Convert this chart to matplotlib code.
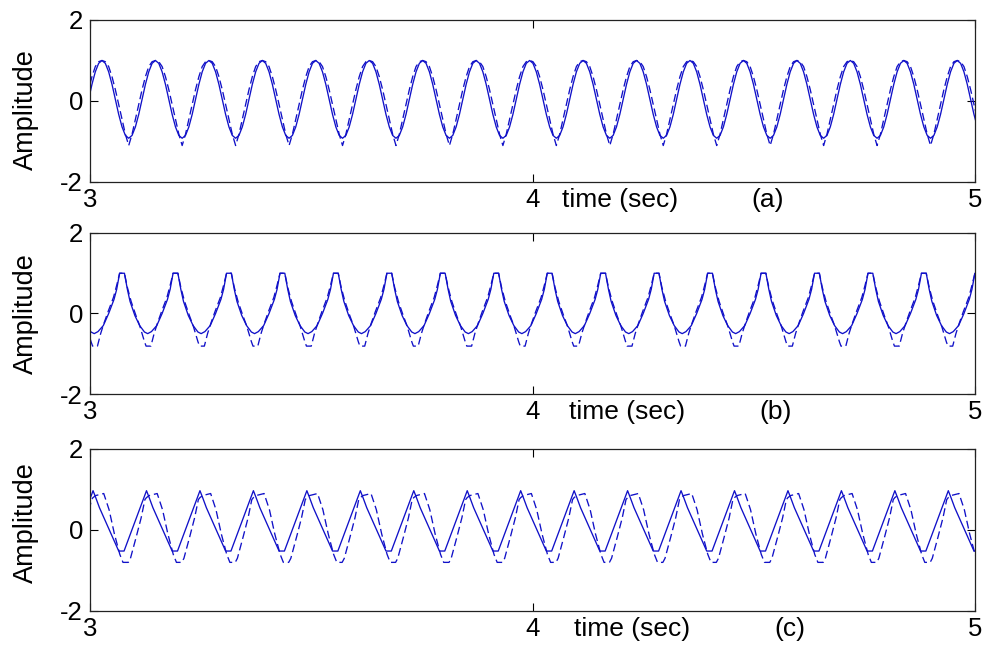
import numpy as np
import matplotlib
matplotlib.use("Agg")
from matplotlib import pyplot as plt

# one cycle of every trace.
# phase 0 = peak of the solid line, phase 1 = next peak
period = 0.1208  # sec, same for all three panels

phase_a = [0.0, 0.0625, 0.125, 0.1875, 0.25, 0.3125, 0.375, 0.4375,
           0.5, 0.5625, 0.625, 0.6875, 0.75, 0.8125, 0.875, 0.9375]
solid_a = [1.0, 0.93, 0.72, 0.41, 0.04, -0.33, -0.64, -0.85,
           -0.92, -0.85, -0.64, -0.33, 0.04, 0.41, 0.72, 0.93]
dashed_a = [1.0, 0.97, 0.85, 0.6, 0.28, -0.08, -0.45, -0.82,
            -1.1, -0.82, -0.45, -0.08, 0.28, 0.6, 0.85, 0.97]
peak_a = 3.027

phase_b = [0.0, 0.045, 0.1, 0.15, 0.24, 0.33, 0.42, 0.48, 0.55,
           0.65, 0.75, 0.85, 0.9, 0.955]
solid_b = [1.0, 1.0, 0.6, 0.3, -0.05, -0.3, -0.46, -0.5, -0.45,
           -0.3, 0.0, 0.35, 0.6, 1.0]
phase_b2 = [0.0, 0.045, 0.1, 0.17, 0.26, 0.33, 0.42, 0.45, 0.54,
            0.6, 0.66, 0.74, 0.84, 0.9, 0.955]
dashed_b = [1.0, 1.0, 0.65, 0.3, -0.05, -0.3, -0.7, -0.81, -0.81,
            -0.5, -0.25, 0.05, 0.4, 0.7, 1.0]
peak_b = 3.0723

phase_c = [0.0, 0.05, 0.12, 0.48, 0.58]
solid_c = [0.97, 0.8, 0.55, -0.52, -0.52]
phase_c2 = [0.0, 0.05, 0.2, 0.3, 0.4, 0.5, 0.56, 0.66, 0.7, 0.81, 0.9, 0.97]
dashed_c = [0.8, 0.85, 0.9, 0.5, -0.1, -0.6, -0.8, -0.8, -0.7, -0.16, 0.3, 0.75]
peak_c = 3.0068

xticks = [3, 4, 5]
yticks = [-2, 0, 2]
xlabel_pos = [4.0667, 4.0825, 4.0927]
tags = ["(a)", "(b)", "(c)"]
tag_pos = [4.5322, 4.5503, 4.5819]


def tile(phase, values, t_peak):
    ph = np.array(phase + [1.0])
    v = np.array(values + [values[0]])
    ts, ys = [], []
    for k in range(-1, 18):
        ts.append(t_peak + (k + ph) * period)
        ys.append(v)
    return np.concatenate(ts), np.concatenate(ys)


plt.rcParams["font.family"] = ["Liberation Sans", "DejaVu Sans"]
plt.rcParams["axes.unicode_minus"] = False

fig = plt.figure(figsize=(9.84, 6.49), dpi=100)
boxes = [
    [0.0915, 0.7196, 0.8994, 0.2496],
    [0.0915, 0.3929, 0.8994, 0.2481],
    [0.0915, 0.0586, 0.8994, 0.2496],
]
traces = [
    ((phase_a, solid_a), (phase_a, dashed_a), peak_a),
    ((phase_b, solid_b), (phase_b2, dashed_b), peak_b),
    ((phase_c, solid_c), (phase_c2, dashed_c), peak_c),
]
label_y = [0.445, 0.5, 0.545]
blue = "#1010c8"

for i, box in enumerate(boxes):
    ax = fig.add_axes(box)
    (ps, vs), (pd, vd), tp = traces[i]
    t, y = tile(ps, vs, tp)
    ax.plot(t, y, color=blue, lw=0.95)
    t, y = tile(pd, vd, tp)
    ax.plot(t, y, color=blue, lw=0.95, dashes=(6, 3))

    ax.set_xlim(3, 5)
    ax.set_ylim(-2, 2)
    ax.set_xticks(xticks)
    ax.set_yticks(yticks)
    ax.tick_params(direction="in", length=6, width=0.8, top=True, right=True,
                   labelsize=18.5)
    ax.tick_params(axis="x", pad=4)
    ax.tick_params(axis="y", pad=5)
    for s in ax.spines.values():
        s.set_linewidth(0.9)
        s.set_color("#222222")

    ax.set_ylabel("Amplitude", fontsize=19.5)
    ax.yaxis.set_label_coords(-0.058, label_y[i])

    ax.annotate("time (sec)", xy=(xlabel_pos[i], 0),
                xycoords=("data", "axes fraction"), xytext=(0, -4),
                textcoords="offset points", ha="left", va="top", fontsize=19)
    ax.annotate(tags[i], xy=(tag_pos[i], 0),
                xycoords=("data", "axes fraction"), xytext=(0, -4),
                textcoords="offset points", ha="center", va="top", fontsize=19)

plt.savefig("out.png", dpi=100)
